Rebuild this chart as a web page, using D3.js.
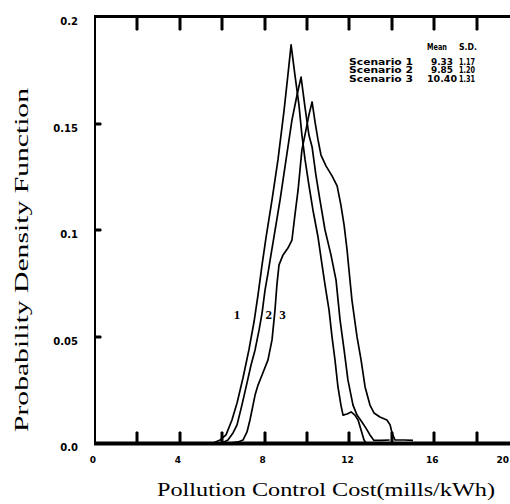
<!DOCTYPE html>
<html><head><meta charset="utf-8">
<script src="https://cdn.jsdelivr.net/npm/d3@7"></script>
<style>html,body{margin:0;padding:0;background:#fff;} svg{display:block;}</style>
</head><body>
<script>
// ---- data ----
const xTickValues = [0,2,4,6,8,10,12,14,16,18,20];
const xTickLabels = [0,4,8,12,16,20];
const yTickValues = [0,0.05,0.1,0.15,0.2];
const yTickLabels = ["0.0","0.05","0.1","0.15","0.2"];
const curveLabels = ["1","2","3"];
const curveLabelPos = [[6.7,0.058],[8.2,0.058],[8.85,0.058]];
const statHeader = ["Mean","S.D."];
const scenarios = ["Scenario 1","Scenario 2","Scenario 3"];
const means = ["9.33","9.85","10.40"];
const sds = ["1.17","1.20","1.31"];

const scenario1 = [[5.57,0],[5.90,0.0014],[6.18,0.0038],[6.46,0.0108],[6.70,0.0188],[6.98,0.0305],[7.26,0.0437],[7.50,0.0568],[7.69,0.0695],[7.88,0.0836],[8.07,0.0967],[8.35,0.1141],[8.63,0.1329],[8.92,0.1563],[9.10,0.1728],[9.25,0.1869],[9.43,0.1728],[9.62,0.1587],[9.76,0.1446],[9.91,0.1329],[10.09,0.1211],[10.28,0.1094],[10.52,0.0967],[10.71,0.0836],[10.85,0.0742],[11.04,0.0624],[11.18,0.0498],[11.32,0.0390],[11.46,0.0263],[11.60,0.0178],[11.70,0.0131],[11.89,0.0136],[12.08,0.0146],[12.26,0.0131],[12.41,0.0108],[12.55,0.0061],[12.69,0.0014],[12.78,0]];
const scenario2 = [[5.99,0],[6.27,0.0014],[6.51,0.0047],[6.70,0.0085],[6.93,0.0178],[7.17,0.0282],[7.36,0.0366],[7.55,0.0437],[7.74,0.0531],[7.88,0.0610],[8.02,0.0718],[8.16,0.0798],[8.30,0.0883],[8.44,0.0967],[8.73,0.1141],[9.01,0.1329],[9.29,0.1516],[9.53,0.1634],[9.72,0.1718],[9.91,0.1573],[10.09,0.1446],[10.24,0.1390],[10.42,0.1258],[10.61,0.1141],[10.85,0.1000],[11.13,0.0883],[11.37,0.0765],[11.56,0.0577],[11.75,0.0437],[11.93,0.0296],[12.17,0.0178],[12.36,0.0131],[12.59,0.0099],[12.78,0.0070],[12.97,0.0038],[13.16,0.0012],[13.5,0.0012],[13.9,0.0014]];
const scenario3 = [[6.37,0],[6.75,0.0005],[6.98,0.0014],[7.17,0.0052],[7.31,0.0108],[7.55,0.0225],[7.69,0.0272],[7.88,0.0319],[8.16,0.0390],[8.35,0.0484],[8.49,0.0624],[8.58,0.0742],[8.68,0.0836],[8.87,0.0883],[9.10,0.0915],[9.29,0.0953],[9.43,0.1070],[9.58,0.1188],[9.76,0.1376],[9.95,0.1469],[10.09,0.1540],[10.24,0.1601],[10.38,0.1507],[10.52,0.1423],[10.66,0.1352],[10.90,0.1300],[11.18,0.1254],[11.42,0.1207],[11.60,0.1117],[11.75,0.1023],[11.89,0.0906],[11.98,0.0812],[12.12,0.0671],[12.36,0.0498],[12.55,0.0390],[12.74,0.0263],[12.97,0.0178],[13.16,0.0141],[13.44,0.0122],[13.77,0.0108],[13.92,0.0085],[14.01,0.0047],[14.15,0.0014],[14.6,0.0014],[15.0,0.0012]];
const series = [scenario1, scenario2, scenario3];

// ---- chart ----
const W = 510, H = 504;
const svg = d3.select("body").append("svg").attr("width", W).attr("height", H);
svg.append("rect").attr("width", W).attr("height", H).attr("fill", "#fff");

const x = d3.scaleLinear().domain([0,20]).range([95,519]);
const y = d3.scaleLinear().domain([0,0.2]).range([443,17]);

const tickFont = "DejaVu Sans, sans-serif";
const innerX = xTickValues.filter(v => v > 0 && v < 20);
const innerY = yTickValues.filter(v => v > 0 && v < 0.2);

// axis lines
svg.append("line").attr("x1", x(0) - 1).attr("x2", x(20)).attr("y1", y(0) + 0.5).attr("y2", y(0) + 0.5)
  .attr("stroke", "#000").attr("stroke-width", 4);
svg.append("line").attr("x1", x(0) - 1).attr("x2", x(20)).attr("y1", y(0.2) - 0.5).attr("y2", y(0.2) - 0.5)
  .attr("stroke", "#000").attr("stroke-width", 3);
svg.append("line").attr("x1", x(0)).attr("x2", x(0)).attr("y1", y(0.2)).attr("y2", y(0))
  .attr("stroke", "#000").attr("stroke-width", 2);

// tick marks (from scales), drawn as thin filled polygons
const tickG = svg.append("g").attr("fill", "#000").attr("stroke", "#000").attr("stroke-width", 1);
innerX.forEach(v => {
  const px = Math.round(x(v));
  tickG.append("polygon").attr("points", `${px-1},${y(0)} ${px+1},${y(0)} ${px+1},${y(0)-11} ${px-1},${y(0)-11}`);
  tickG.append("polygon").attr("points", `${px-1},${y(0.2)} ${px+1},${y(0.2)} ${px+1},${y(0.2)+13} ${px-1},${y(0.2)+13}`);
});
innerY.forEach(v => {
  const py = Math.round(y(v));
  tickG.append("polygon").attr("points", `${x(0)},${py-1} ${x(0)+6},${py-1} ${x(0)+6},${py+1} ${x(0)},${py+1}`);
});

// x tick labels
svg.append("g").selectAll("text").data(xTickLabels).join("text")
  .attr("x", d => d === 20 ? W - 1 : x(d) - 2).attr("y", y(0) + 20)
  .attr("text-anchor", d => d === 20 ? "end" : "middle")
  .attr("font-family", tickFont).attr("font-weight", "bold").attr("font-size", 9).text(d => d);

// y tick labels
svg.append("g").selectAll("text").data(yTickValues).join("text")
  .attr("x", x(0) - 17).attr("y", d => y(d) + 8)
  .attr("text-anchor", "end")
  .attr("font-family", tickFont).attr("font-weight", "bold").attr("font-size", 10).text((d,i) => yTickLabels[i]);

// curves
const line = d3.line().x(d => x(d[0])).y(d => y(d[1]));
svg.append("g").selectAll("path").data(series).join("path")
  .attr("d", line).attr("fill", "none").attr("stroke", "#000").attr("stroke-width", 1.7)
  .attr("stroke-linejoin", "round");

// curve labels
svg.append("g").selectAll("text").data(curveLabels).join("text")
  .attr("x", (d,i) => x(curveLabelPos[i][0])).attr("y", (d,i) => y(curveLabelPos[i][1]))
  .attr("text-anchor", "middle").attr("font-family", "Liberation Serif, serif").attr("font-weight", "bold")
  .attr("font-size", 13).text(d => d);

// stats table
const tf = "DejaVu Sans, sans-serif";
const hdr = svg.append("g").attr("font-family", tf).attr("font-weight", "bold").attr("font-size", 9);
hdr.append("text").attr("x", 427).attr("y", 50).attr("textLength", 20).attr("lengthAdjust", "spacingAndGlyphs").text(statHeader[0]);
hdr.append("text").attr("x", 459).attr("y", 50).attr("textLength", 18).attr("lengthAdjust", "spacingAndGlyphs").text(statHeader[1]);
const rowY = [64.5, 73, 81.5];
scenarios.forEach((s,i) => {
  hdr.append("text").attr("x", 349).attr("y", rowY[i]).attr("textLength", 64).attr("lengthAdjust", "spacingAndGlyphs").text(s);
  hdr.append("text").attr("x", means[i].length > 4 ? 427 : 431).attr("y", rowY[i])
    .attr("textLength", means[i].length > 4 ? 30 : 22).attr("lengthAdjust", "spacingAndGlyphs").text(means[i]);
  hdr.append("text").attr("x", 459).attr("y", rowY[i]).attr("textLength", 16).attr("lengthAdjust", "spacingAndGlyphs").text(sds[i]);
});

// axis titles
svg.append("text").attr("x", 157).attr("y", 496).attr("textLength", 338).attr("lengthAdjust", "spacingAndGlyphs")
  .attr("font-family", "Liberation Serif, serif").attr("font-size", 19).text("Pollution Control Cost(mills/kWh)");
svg.append("text").attr("transform", "translate(28,432) rotate(-90)").attr("x", 0).attr("y", 0)
  .attr("textLength", 344).attr("lengthAdjust", "spacingAndGlyphs")
  .attr("font-family", "Liberation Serif, serif").attr("font-size", 19).text("Probability Density Function");
</script>
</body></html>
